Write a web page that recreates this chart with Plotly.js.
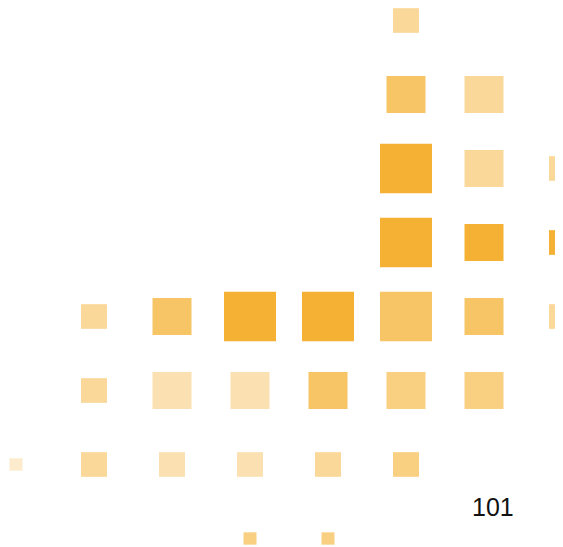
<!DOCTYPE html>
<html>
<head>
<meta charset="utf-8">
<script src="https://cdn.plot.ly/plotly-3.0.1.min.js"></script>
<style>
  html, body { margin: 0; padding: 0; background: #ffffff; }
  #chart { width: 563px; height: 547px; }
</style>
</head>
<body>
<div id="chart"></div>
<script>
// Grid cells: column index, row index (0 = top), size level (sixths of a cell), shade (opacity)
const cellCol   = [5,  5, 6,  5, 6, 7,  5, 6, 7,  1, 2, 3, 4, 5, 6, 7,  1, 2, 3, 4, 5, 6,  0, 1, 2, 3, 4, 5,  3, 4];
const cellRow   = [0,  1, 1,  2, 2, 2,  3, 3, 3,  4, 4, 4, 4, 4, 4, 4,  5, 5, 5, 5, 5, 5,  6, 6, 6, 6, 6, 6,  7, 7];
const cellSize  = [2,  3, 3,  4, 3, 2,  4, 3, 2,  2, 3, 4, 4, 4, 3, 2,  2, 3, 3, 3, 3, 3,  1, 2, 2, 2, 2, 2,  1, 1];
const cellShade = [0.5, 0.75, 0.5, 1, 0.5, 0.5, 1, 1, 1,
                   0.5, 0.75, 1, 1, 0.75, 0.75, 0.5,
                   0.5, 0.38, 0.38, 0.75, 0.62, 0.62,
                   0.25, 0.5, 0.38, 0.38, 0.5, 0.62,
                   0.62, 0.62];
const labelText = ["101"];
const labelX = [6.11];
const labelY = [6.58];

const baseColor = "#F5B133";

const shapes = cellCol.map((c, i) => {
  const h = cellSize[i] / 12;
  const r = cellRow[i];
  return {
    type: "rect", xref: "x", yref: "y", layer: "above",
    x0: c - h, x1: c + h, y0: r - h, y1: r + h,
    fillcolor: baseColor, opacity: cellShade[i],
    line: { width: 0 }
  };
});

const annotations = labelText.map((t, i) => ({
  x: labelX[i], y: labelY[i], xref: "x", yref: "y",
  text: t, showarrow: false, xanchor: "center", yanchor: "middle",
  font: { family: "Liberation Sans, Arial, sans-serif", size: 25, color: "#111111" }
}));

const trace = {
  type: "scatter", mode: "markers",
  x: cellCol, y: cellRow,
  marker: { size: 1, opacity: 0 },
  hoverinfo: "skip", showlegend: false
};

const layout = {
  width: 563, height: 547,
  margin: { l: 0, r: 8, t: 0, b: 0, pad: 0 },
  paper_bgcolor: "#ffffff", plot_bgcolor: "#ffffff",
  showlegend: false,
  xaxis: { range: [-0.2051, 6.9103], visible: false, fixedrange: true },
  yaxis: { range: [7.115, -0.277], visible: false, fixedrange: true },
  shapes: shapes,
  annotations: annotations
};

Plotly.newPlot("chart", [trace], layout, { displayModeBar: false, staticPlot: true });
</script>
</body>
</html>
